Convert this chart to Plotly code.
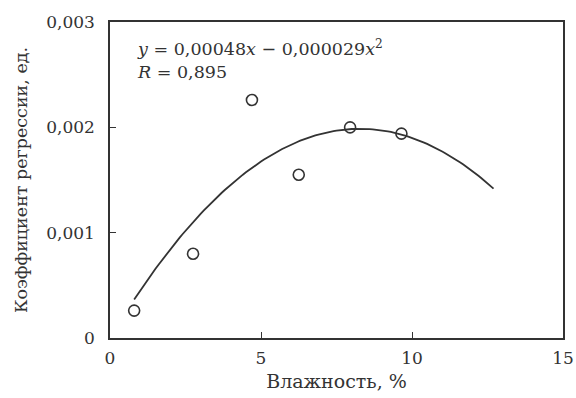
import numpy as np
import plotly.graph_objects as go

# Measured points: moisture (%) vs regression coefficient
moisture = [0.8, 2.75, 4.7, 6.25, 7.95, 9.65]
coef = [0.00026, 0.00080, 0.00226, 0.00155, 0.00200, 0.00194]

# Fitted quadratic: y = a*x - b*x^2
a_lin = 0.00048
b_quad = 0.000029
fit_x_range = [0.8, 12.7]

x_ticks = [0, 5, 10, 15]
x_tick_text = ["0", "5", "10", "15"]
y_ticks = [0, 0.001, 0.002, 0.003]
y_tick_text = ["0", "0,001", "0,002", "0,003"]

fx = np.linspace(fit_x_range[0], fit_x_range[1], 120)
fy = a_lin * fx - b_quad * fx ** 2

font_family = "DejaVu Serif, Liberation Serif, serif"
ink = "#333333"

fig = go.Figure()
fig.add_trace(go.Scatter(x=fx, y=fy, mode="lines",
                         line=dict(color=ink, width=1.8), hoverinfo="skip"))
fig.add_trace(go.Scatter(x=moisture, y=coef, mode="markers",
                         marker=dict(symbol="circle-open", size=11,
                                     color=ink, line=dict(width=1.6, color=ink))))

fig.update_layout(
    width=576, height=398,
    margin=dict(l=110, r=13, t=22, b=60),
    plot_bgcolor="white", paper_bgcolor="white",
    showlegend=False,
    font=dict(family=font_family, size=16, color=ink),
    xaxis=dict(range=[0, 15], tickvals=x_ticks, ticktext=x_tick_text,
               ticks="inside", ticklen=6, tickwidth=1.2, tickcolor=ink,
               tickfont=dict(size=17), ticklabelstandoff=4, automargin=False,
               showgrid=False, zeroline=False,
               showline=True, linecolor=ink, linewidth=1.5, mirror=True,
               title=dict(text="Влажность, %", font=dict(size=19), standoff=8)),
    yaxis=dict(range=[0, 0.003], tickvals=y_ticks, ticktext=y_tick_text,
               ticks="inside", ticklen=6, tickwidth=1.2, tickcolor=ink,
               tickfont=dict(size=17), ticklabelstandoff=10, automargin=False,
               showgrid=False, zeroline=False,
               showline=True, linecolor=ink, linewidth=1.5, mirror=True,
               title=dict(text="Коэффициент регрессии, ед.", font=dict(size=17.5), standoff=14)),
    annotations=[
        dict(x=0.055, y=0.96, xref="paper", yref="paper", xanchor="left", yanchor="top",
             align="left", showarrow=False, font=dict(size=17.5, color=ink),
             text="<i>y</i> = 0,00048<i>x</i> − 0,000029<i>x</i><sup>2</sup><br><i>R</i> = 0,895"),
    ],
)

fig.write_html("out.html")
